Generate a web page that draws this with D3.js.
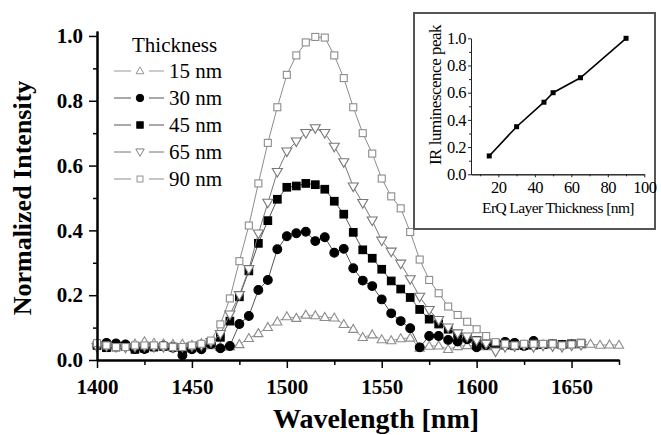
<!DOCTYPE html>
<html>
<head>
<meta charset="utf-8">
<script src="https://cdn.jsdelivr.net/npm/d3@7"></script>
<style>
  body { margin: 0; background: #fff; }
  svg { display: block; }
</style>
</head>
<body>
<svg width="661" height="435"></svg>
<script>
// wavelength grid (nm), shared by all series; null = no point
var wavelength = [1400, 1405, 1410, 1415, 1420, 1425, 1430, 1435, 1440, 1445,
                  1450, 1455, 1460, 1465, 1470, 1475, 1480, 1485, 1490, 1495,
                  1500, 1505, 1510, 1515, 1520, 1525, 1530, 1535, 1540, 1545,
                  1550, 1555, 1560, 1565, 1570, 1575, 1580, 1585, 1590, 1595,
                  1600, 1605, 1610, 1615, 1620, 1625, 1630, 1635, 1640, 1645,
                  1650, 1655, 1660, 1665, 1670, 1675];

var t15 = [0.050, 0.048, 0.045, 0.046, 0.050, 0.057, 0.052, 0.050, 0.048, 0.049,
           0.046, 0.051, 0.045, 0.040, 0.041, 0.048, 0.067, 0.082, 0.101, 0.118,
           0.134, 0.129, 0.139, 0.137, 0.132, 0.130, 0.110, 0.095, 0.070, 0.078,
           0.063, 0.060, 0.066, 0.068, 0.037, 0.043, 0.044, 0.033, 0.042, 0.045,
           0.044, 0.042, 0.045, 0.046, 0.044, 0.046, 0.045, 0.047, 0.048, 0.046,
           0.048, 0.047, 0.049, 0.046, 0.047, 0.046];

var t30 = [null, 0.053, 0.051, 0.048, 0.034, 0.034, 0.041, 0.044, 0.038, 0.015,
           0.033, 0.033, 0.049, 0.036, 0.043, 0.111, 0.136, 0.216, 0.247, 0.342,
           0.382, 0.391, 0.396, 0.367, 0.379, 0.331, 0.343, 0.283, 0.245, 0.228,
           0.187, 0.144, 0.120, 0.098, 0.039, 0.074, 0.074, 0.062, 0.057, 0.064,
           0.039, 0.046, 0.046, 0.056, 0.053, 0.043, 0.059, null, null, null,
           null, null, null, null, null, null];

var t45 = [0.045, 0.038, 0.040, 0.042, 0.033, 0.036, 0.040, 0.042, 0.040, 0.035,
           0.038, 0.040, 0.052, 0.070, 0.120, 0.195, 0.275, 0.360, 0.430, 0.496,
           0.533, 0.537, 0.545, 0.541, 0.527, 0.490, 0.450, 0.394, 0.340, 0.314,
           0.280, 0.244, 0.219, 0.193, 0.156, 0.126, 0.111, 0.095, 0.080, 0.070,
           0.060, 0.052, 0.050, 0.046, 0.044, 0.045, 0.046, 0.048, 0.050, 0.048,
           0.050, 0.052, null, null, null, null];

var t65 = [0.040, 0.042, 0.040, 0.038, 0.040, 0.042, 0.040, 0.040, 0.038, 0.040,
           0.042, 0.045, 0.055, 0.080, 0.140, 0.200, 0.280, 0.390, 0.485, 0.580,
           0.643, 0.674, 0.700, 0.715, 0.700, 0.658, 0.610, 0.535, 0.484, 0.430,
           0.368, 0.334, 0.297, 0.249, 0.195, 0.154, 0.123, 0.100, 0.082, 0.072,
           0.060, 0.050, 0.026, 0.040, 0.042, 0.045, 0.040, 0.044, 0.042, 0.040,
           0.044, 0.046, null, null, null, null];

var t90 = [0.052, 0.045, 0.040, 0.040, 0.045, 0.045, 0.045, 0.045, 0.040, 0.040,
           0.045, 0.050, 0.060, 0.110, 0.190, 0.305, 0.415, 0.545, 0.670, 0.780,
           0.880, 0.940, 0.980, 0.997, 0.995, 0.940, 0.870, 0.780, 0.700, 0.637,
           0.560, 0.505, 0.468, 0.395, 0.310, 0.247, 0.206, 0.165, 0.139, 0.118,
           0.095, 0.074, 0.055, 0.050, 0.045, 0.050, 0.050, 0.050, 0.050, 0.045,
           0.048, 0.052, null, null, null, null];

var seriesNames = ["15 nm", "30 nm", "45 nm", "65 nm", "90 nm"];
var xTicks = [1400, 1450, 1500, 1550, 1600, 1650];
var xMinor = [1425, 1475, 1525, 1575, 1625, 1675];
var yTicks = [0, 0.2, 0.4, 0.6, 0.8, 1.0];
var yMinor = [0.1, 0.3, 0.5, 0.7, 0.9];

// inset: peak vs layer thickness
var thickness = [15, 30, 45, 50, 65, 90];
var peak = [0.135, 0.35, 0.53, 0.60, 0.71, 1.0];
var insetXTicks = [20, 40, 60, 80, 100];
var insetXMinor = [10, 30, 50, 70, 90];
var insetYTicks = [0, 0.2, 0.4, 0.6, 0.8, 1.0];
var insetYMinor = [0.1, 0.3, 0.5, 0.7, 0.9];

var SERIF = "'Liberation Serif', 'Times New Roman', serif";

var styles = [
    {name: seriesNames[0], data: t15, shape: "tri",  fill: "#fff", stroke: "#8c8c8c", line: "#999"},
    {name: seriesNames[1], data: t30, shape: "dot",  fill: "#000", stroke: "#000",    line: "#555"},
    {name: seriesNames[2], data: t45, shape: "sq",   fill: "#000", stroke: "#000",    line: "#555"},
    {name: seriesNames[3], data: t65, shape: "tri2", fill: "#fff", stroke: "#777",    line: "#777"},
    {name: seriesNames[4], data: t90, shape: "sq2",  fill: "#fff", stroke: "#8c8c8c", line: "#8c8c8c"}
];

var svg = d3.select("svg");

var x = d3.scaleLinear().domain([1400, 1675]).range([97, 619]);
var y = d3.scaleLinear().domain([0, 1.015]).range([360, 31.1]);

function marker(sel, shape) {
    if (shape == "dot") {
        sel.append("circle").attr("r", 4.4);
    } else if (shape == "sq") {
        sel.append("rect").attr("x", -3.8).attr("y", -3.8).attr("width", 7.6).attr("height", 7.6);
    } else if (shape == "sq2") {
        sel.append("rect").attr("x", -3.5).attr("y", -3.5).attr("width", 7).attr("height", 7);
    } else if (shape == "tri") {
        sel.append("path").attr("d", "M0,-4.8L4.6,3.2L-4.6,3.2Z");
    } else {
        sel.append("path").attr("d", "M0,5L5,-3.6L-5,-3.6Z");
    }
}

// series lines + markers
styles.forEach(function (s) {
    var pts = wavelength.map(function (w, i) { return {w: w, v: s.data[i]}; })
        .filter(function (d) { return d.v != null; });

    svg.append("path")
        .datum(pts)
        .attr("fill", "none")
        .attr("stroke", s.line)
        .attr("stroke-width", 1)
        .attr("d", d3.line().x(function (d) { return x(d.w); }).y(function (d) { return y(d.v); }));

    svg.append("g").selectAll("g")
        .data(pts)
        .enter().append("g")
            .attr("transform", function (d) { return "translate(" + x(d.w) + "," + y(d.v) + ")"; })
            .attr("fill", s.fill)
            .attr("stroke", s.stroke)
            .attr("stroke-width", 1.1)
            .each(function () { marker(d3.select(this), s.shape); });
});

// axes
svg.append("g")
    .attr("class", "axis")
    .attr("transform", "translate(0,360)")
    .call(d3.axisBottom(x).tickValues(xTicks).tickSize(8).tickSizeOuter(0).tickPadding(11).tickFormat(d3.format("d")));
svg.append("g")
    .attr("class", "axis")
    .attr("transform", "translate(0,360)")
    .call(d3.axisBottom(x).tickValues(xMinor).tickSize(5).tickSizeOuter(0).tickFormat(""));

svg.append("g")
    .attr("class", "axis")
    .attr("transform", "translate(97,0)")
    .call(d3.axisLeft(y).tickValues(yTicks).tickSize(8).tickSizeOuter(0).tickPadding(6).tickFormat(d3.format(".1f")));
svg.append("g")
    .attr("class", "axis")
    .attr("transform", "translate(97,0)")
    .call(d3.axisLeft(y).tickValues(yMinor).tickSize(4).tickSizeOuter(0).tickFormat(""));

svg.selectAll(".axis path").attr("stroke", "#000").attr("stroke-width", 2);
svg.selectAll(".axis line").attr("stroke", "#000").attr("stroke-width", 1.5);
svg.selectAll(".axis text")
    .attr("fill", "#000")
    .style("font-family", SERIF)
    .style("font-size", "21px")
    .style("font-weight", "bold");

svg.append("text")
    .attr("x", 376)
    .attr("y", 428)
    .attr("text-anchor", "middle")
    .style("font-family", SERIF)
    .style("font-size", "28px")
    .style("font-weight", "bold")
    .text("Wavelength [nm]");

svg.append("text")
    .attr("transform", "translate(31,198) rotate(-90)")
    .attr("text-anchor", "middle")
    .style("font-family", SERIF)
    .style("font-size", "26px")
    .style("font-weight", "bold")
    .text("Normalized Intensity");

// legend
svg.append("text")
    .attr("x", 132)
    .attr("y", 52)
    .style("font-family", SERIF)
    .style("font-size", "21px")
    .text("Thickness");

var legend = svg.selectAll(".legend")
    .data(styles)
    .enter().append("g")
        .attr("class", "legend")
        .attr("transform", function (d, i) { return "translate(0," + (77.5 + i * 27) + ")"; });

legend.append("line").attr("x1", 114).attr("x2", 131).attr("y1", -6.5).attr("y2", -6.5)
    .attr("stroke", function (d) { return d.line; });
legend.append("line").attr("x1", 149).attr("x2", 164).attr("y1", -6.5).attr("y2", -6.5)
    .attr("stroke", function (d) { return d.line; });
legend.append("g")
    .attr("transform", "translate(140,-6.5) scale(0.85)")
    .attr("fill", function (d) { return d.fill; })
    .attr("stroke", function (d) { return d.stroke; })
    .attr("stroke-width", 1.1)
    .each(function (d) { marker(d3.select(this), d.shape); });
legend.append("text")
    .attr("x", 169)
    .style("font-family", SERIF)
    .style("font-size", "21px")
    .text(function (d) { return d.name; });

// inset
svg.append("rect")
    .attr("x", 414).attr("y", 13)
    .attr("width", 241).attr("height", 216)
    .attr("fill", "#fff")
    .attr("stroke", "#555")
    .attr("stroke-width", 2);

var ix = d3.scaleLinear().domain([5, 100]).range([471, 644.3]);
var iy = d3.scaleLinear().domain([0, 1]).range([174.3, 38.3]);

var ig = svg.append("g");
ig.append("g")
    .attr("class", "iaxis")
    .attr("transform", "translate(0,174.3)")
    .call(d3.axisBottom(ix).tickValues(insetXTicks).tickSize(3).tickSizeOuter(0).tickPadding(4));
ig.append("g")
    .attr("class", "iaxis")
    .attr("transform", "translate(0,174.3)")
    .call(d3.axisBottom(ix).tickValues(insetXMinor).tickSize(2).tickSizeOuter(0).tickFormat(""));
ig.append("g")
    .attr("class", "iaxis")
    .attr("transform", "translate(471,0)")
    .call(d3.axisLeft(iy).tickValues(insetYTicks).tickSize(3).tickSizeOuter(0).tickPadding(2).tickFormat(d3.format(".1f")));
ig.append("g")
    .attr("class", "iaxis")
    .attr("transform", "translate(471,0)")
    .call(d3.axisLeft(iy).tickValues(insetYMinor).tickSize(2).tickSizeOuter(0).tickFormat(""));
ig.selectAll(".iaxis path, .iaxis line").attr("stroke", "#222").attr("stroke-width", 1);
ig.selectAll(".iaxis text")
    .attr("fill", "#000")
    .style("font-family", SERIF)
    .style("font-size", "16.5px")
    .style("letter-spacing", "-0.5px");

ig.append("path")
    .datum(thickness.map(function (t, i) { return [t, peak[i]]; }))
    .attr("fill", "none")
    .attr("stroke", "#000")
    .attr("stroke-width", 1.6)
    .attr("d", d3.line().x(function (d) { return ix(d[0]); }).y(function (d) { return iy(d[1]); }));
ig.selectAll(".ipt")
    .data(thickness.map(function (t, i) { return [t, peak[i]]; }))
    .enter().append("rect")
        .attr("class", "ipt")
        .attr("x", function (d) { return ix(d[0]) - 2.5; })
        .attr("y", function (d) { return iy(d[1]) - 2.5; })
        .attr("width", 5).attr("height", 5)
        .attr("fill", "#000");

ig.append("text")
    .attr("x", 558)
    .attr("y", 213)
    .attr("text-anchor", "middle")
    .style("font-family", SERIF)
    .style("font-size", "15.5px")
    .style("letter-spacing", "-0.6px")
    .text("ErQ Layer Thickness [nm]");
ig.append("text")
    .attr("transform", "translate(441,95) rotate(-90)")
    .attr("text-anchor", "middle")
    .style("font-family", SERIF)
    .style("font-size", "17px")
    .style("letter-spacing", "-0.5px")
    .text("IR luminescence peak");
</script>
</body>
</html>
